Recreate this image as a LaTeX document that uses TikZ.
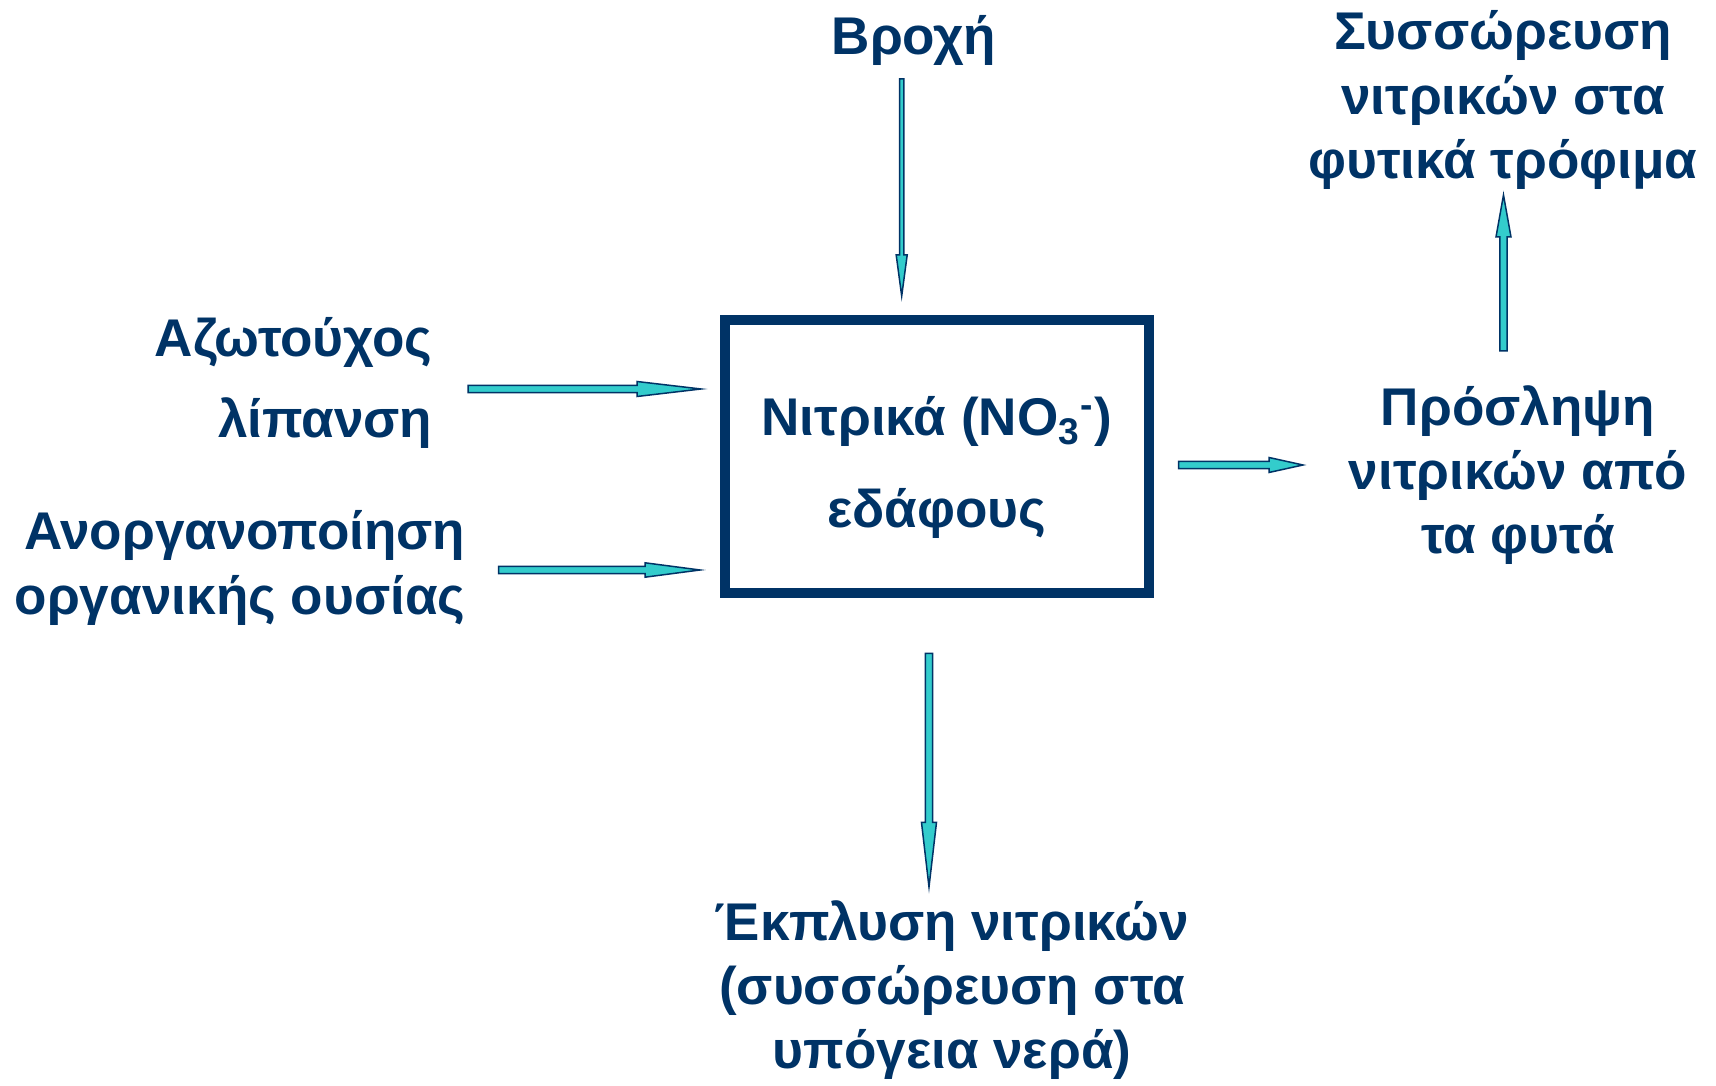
\documentclass[tikz,border=0pt]{standalone}
\usepackage{fontspec}
\setmainfont{Liberation Sans}
\usetikzlibrary{calc}

\definecolor{navy}{HTML}{003366}
\definecolor{aqua}{HTML}{33CCCC}

% block arrow: start, tip, shaft half width, head half width, head length
\newcommand{\blkarrow}[5]{%
  \coordinate (hb) at ($(#2)!#5!(#1)$);
  \filldraw[ba] ($(#1)!#3!90:(#2)$) -- ($(hb)!#3!90:(#2)$)
    -- ($(hb)!#4!90:(#2)$) -- (#2) -- ($(hb)!#4!-90:(#2)$)
    -- ($(hb)!#3!-90:(#2)$) -- ($(#1)!#3!-90:(#2)$) -- cycle;
}

\begin{document}
\begin{tikzpicture}[
    lbl/.style={text=navy, inner sep=0pt,
                font=\bfseries\fontsize{15.1}{18.3}\selectfont},
    soil/.style={draw=navy, line width=0.1cm, minimum width=4.24cm,
                 minimum height=2.73cm, align=center, text=navy,
                 font=\bfseries\fontsize{15.1}{26.2}\selectfont},
    ba/.style={draw=navy, fill=aqua, line width=0.015cm},
  ]
  \useasboundingbox (0,0) rectangle (17.16,-10.86);

  \node[soil] (box) at (9.37, -4.565) {\rule{0pt}{17.5pt}Νιτρικά (NO\textsubscript{3}\textsuperscript{-})\\εδάφους};

  \node[lbl, anchor=base] (rain) at (9.14, -0.55) {Βροχή};
  \node[lbl, align=right, anchor=east, font=\bfseries\fontsize{15.1}{23.3}\selectfont]
    (fert) at (4.33, -3.83) {Αζωτούχος\\λίπανση};
  \node[lbl, align=right, anchor=east] (miner) at (4.66, -5.68) {Ανοργανοποίηση\\οργανικής ουσίας};
  \node[lbl, align=center] (uptake) at (15.18, -4.75) {Πρόσληψη\\νιτρικών από\\τα φυτά};
  \node[lbl, align=center] (accum) at (15.03, -1.00) {Συσσώρευση\\νιτρικών στα\\φυτικά τρόφιμα};
  \node[lbl, align=center] (leach) at (9.52, -9.90) {Έκπλυση νιτρικών\\(συσσώρευση στα\\υπόγεια νερά)};

  % arrow ends
  \coordinate (rainS) at (9.017, -0.79);
  \coordinate (rainE) at (9.017, -2.96);
  \coordinate (fertS) at (4.68, -3.89);
  \coordinate (fertE) at (7.01, -3.89);
  \coordinate (minerS) at (4.985, -5.70);
  \coordinate (minerE) at (7.00, -5.70);
  \coordinate (upS) at (11.785, -4.65);
  \coordinate (upE) at (13.03, -4.65);
  \coordinate (leachS) at (9.29, -6.535);
  \coordinate (leachE) at (9.29, -8.87);
  \coordinate (accS) at (15.035, -3.51);
  \coordinate (accE) at (15.035, -1.95);

  \blkarrow{rainS}{rainE}{0.022cm}{0.055cm}{0.41cm}
  \blkarrow{fertS}{fertE}{0.036cm}{0.075cm}{0.64cm}
  \blkarrow{minerS}{minerE}{0.036cm}{0.072cm}{0.55cm}
  \blkarrow{upS}{upE}{0.036cm}{0.075cm}{0.34cm}
  \blkarrow{leachS}{leachE}{0.036cm}{0.075cm}{0.646cm}
  \blkarrow{accS}{accE}{0.036cm}{0.075cm}{0.42cm}
\end{tikzpicture}
\end{document}
